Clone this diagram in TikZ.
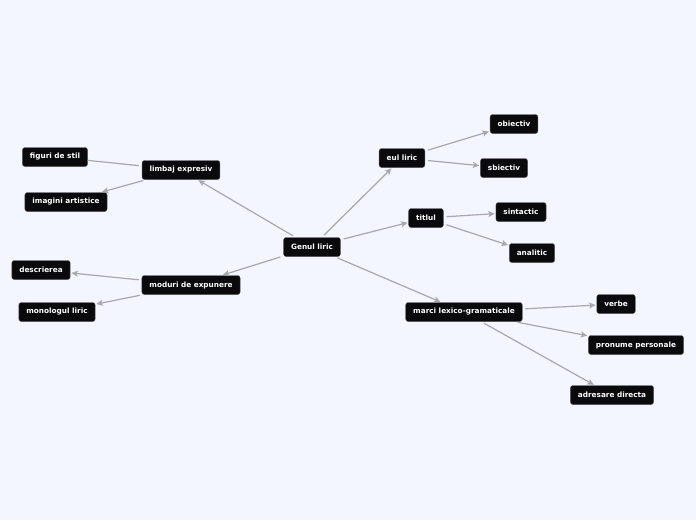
\documentclass[tikz,border=0pt]{standalone}
\usepackage{fontspec}
\setmainfont{DejaVu Sans}
\usetikzlibrary{arrows.meta,positioning}
\definecolor{mapbg}{RGB}{243,245,255}
\definecolor{mapbox}{RGB}{10,10,12}
\definecolor{mapline}{RGB}{168,168,170}

\begin{document}
\begin{tikzpicture}[x=1pt, y=-1pt,
        topic/.style={draw=mapbox!70!white, fill=mapbox, text=white, rounded corners=2.5pt, minimum height=19pt, inner xsep=7.5pt, inner ysep=0pt, font=\fontsize{7.3}{8}\selectfont\bfseries},
        link/.style={draw=mapline, line width=1.2pt, shorten <=3pt, shorten >=1pt, -{Stealth[length=6.5pt, width=6pt, inset=1.5pt]}},
        plain/.style={draw=mapline, line width=1.2pt, shorten <=3pt}]
        \fill[mapbg] (0,0) rectangle (696,520);
        \useasboundingbox (0,0) rectangle (696,520);
        % centre
        \node[topic] (gen) at (312,247) {Genul liric};
        % right side
        \node[topic] (eul) at (402,158) {eul liric};
        \node[topic] (obi) at (514,124) {obiectiv};
        \node[topic] (sbi) at (504,168) {sbiectiv};
        \node[topic] (tit) at (426,218) {titlul};
        \node[topic] (sin) at (521,212) {sintactic};
        \node[topic] (ana) at (532,253) {analitic};
        \node[topic] (mar) at (464,312) {marci lexico-gramaticale};
        \node[topic] (ver) at (616,304) {verbe};
        \node[topic] (pro) at (636,345) {pronume personale};
        \node[topic] (adr) at (612,395) {adresare directa};
        % left side
        \node[topic] (lim) at (181,170) {limbaj expresiv};
        \node[topic] (fig) at (55,157) {figuri de stil};
        \node[topic] (ima) at (66,202) {imagini artistice};
        \node[topic] (mod) at (191,285) {moduri de expunere};
        \node[topic] (des) at (41,270) {descrierea};
        \node[topic] (mon) at (57,312) {monologul liric};
        % connectors
        \draw[link] (gen)--(eul);
        \draw[link] (gen)--(tit);
        \draw[link] (gen)--(mar);
        \draw[link] (gen)--(lim);
        \draw[link] (gen)--(mod);
        \draw[link] (eul)--(obi);
        \draw[link] (eul)--(sbi);
        \draw[link] (tit)--(sin);
        \draw[link] (tit)--(ana);
        \draw[link] (mar)--(ver);
        \draw[link] (mar)--(pro);
        \draw[link] (mar)--(adr);
        \draw[plain] (lim)--(fig);
        \draw[link] (lim)--(ima);
        \draw[link] (mod)--(des);
        \draw[link] (mod)--(mon);
\end{tikzpicture}
\end{document}
